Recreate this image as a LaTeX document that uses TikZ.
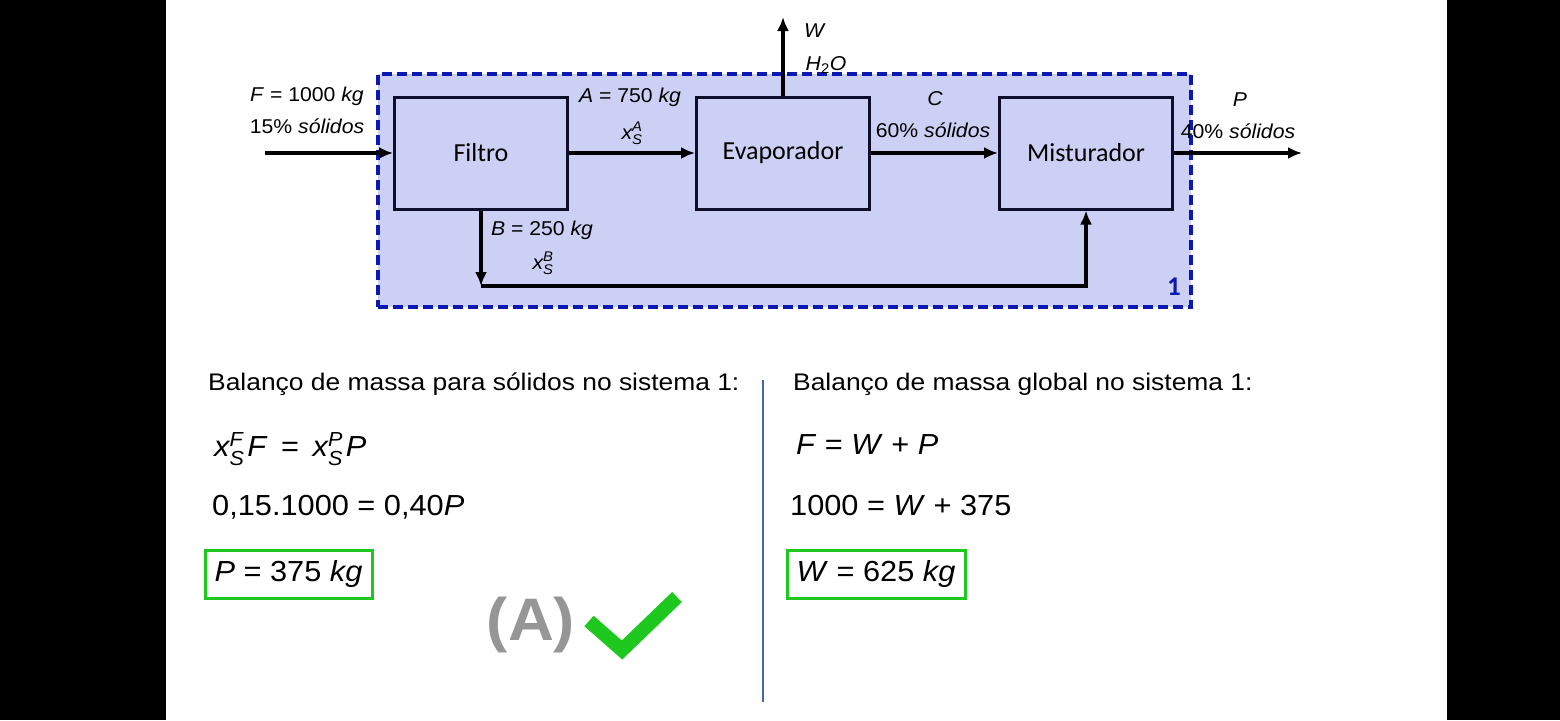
\documentclass[tikz,border=0pt]{standalone}
\usepackage{amsmath}
\usepackage{fontspec}
\setmainfont{Liberation Sans}[FakeStretch=1.06]
\newfontfamily\calibri{Carlito}
\newfontfamily\titfont{Liberation Sans}[FakeStretch=1.1]
\newfontfamily\eqfont{Liberation Sans}[FakeStretch=1.06]
\usetikzlibrary{arrows.meta}

\definecolor{lavanda}{RGB}{205,208,245}
\definecolor{azulsis}{RGB}{12,24,178}
\definecolor{marinho}{RGB}{14,14,44}
\definecolor{verde}{RGB}{30,200,30}
\definecolor{divisor}{RGB}{70,100,170}
\definecolor{cinza}{RGB}{150,150,150}

\newcommand\fracsol[1]{$\textit{x}^{\text{\itshape #1}}_{\text{\itshape S}}$}

\tikzset{
  sistema/.style = {draw = azulsis, fill = lavanda, line width = 3.5pt, dash pattern = on 10pt off 5pt,
                    minimum width = 813pt, minimum height = 233pt, inner sep = 0pt},
  unidade/.style = {draw = marinho, fill = lavanda, line width = 3pt, minimum width = 173pt,
                    minimum height = 112pt, inner sep = 0pt, font = \calibri\fontsize{26}{30}\selectfont},
  fluxo/.style   = {line width = 3.5pt, -{Latex[length = 14pt, width = 12pt]}},
  rotulo/.style  = {anchor = base, inner sep = 0pt, font = \fontsize{20}{24}\selectfont},
  titulo/.style  = {anchor = base west, inner sep = 0pt, font = \titfont\fontsize{24}{28}\selectfont},
  eq/.style      = {anchor = base west, inner sep = 0pt, font = \eqfont\fontsize{29}{34}\selectfont},
  resultado/.style = {draw = verde, line width = 3pt, minimum width = 167pt, minimum height = 48pt,
                    inner sep = 0pt, font = \eqfont\fontsize{29}{34}\selectfont}
}

\begin{document}
\begin{tikzpicture}[x = 1pt, y = -1pt]
\useasboundingbox (0,0) rectangle (1560,720);
\fill[white] (0,0) rectangle (1560,720);
\fill[black] (0,0) rectangle (166,720);
\fill[black] (1447,0) rectangle (1560,720);

% sistema 1
\node[sistema] (sis) at (784.5,190.5) {};
\node[text = azulsis, font = \calibri\bfseries\fontsize{27}{30}\selectfont] (num) at (1174,287) {1};

% unidades
\node[unidade] (filtro) at (481,153) {Filtro};
\node[unidade] (evap) at (783,153) {Evaporador};
\node[unidade] (mist) at (1086,153) {Misturador};

\coordinate (ent) at (265,153);
\coordinate (sai) at (1302,153);
\coordinate (vap) at (783,17);
\coordinate (fundo) at (481,286);

\draw[fluxo] (ent) -- (filtro);
\draw[fluxo] (filtro) -- (evap);
\draw[fluxo] (evap) -- (mist);
\draw[fluxo] (mist) -- (sai);
\draw[fluxo] (evap) -- (vap);
\draw[fluxo] (filtro) -- (fundo);
\draw[fluxo] (fundo) -| (mist);

% correntes
\node[rotulo] (lF) at (307,101) {\textit{F} = 1000 \textit{kg}};
\node[rotulo] (lF2) at (307,133) {15\% \textit{sólidos}};
\node[rotulo] (lA) at (630,102) {\textit{A} = 750 \textit{kg}};
\node[rotulo] (lxA) at (632,139) {\fracsol{A}};
\node[rotulo] (lB) at (542,235) {\textit{B} = 250 \textit{kg}};
\node[rotulo] (lxB) at (543,269) {\fracsol{B}};
\node[rotulo] (lC) at (935,105) {\textit{C}};
\node[rotulo] (lC2) at (933,137) {60\% \textit{sólidos}};
\node[rotulo] (lP) at (1240,106) {\textit{P}};
\node[rotulo] (lP2) at (1238,138) {40\% \textit{sólidos}};
\node[rotulo] (lW) at (815,37) {\textit{W}};
\node[rotulo] (lH) at (826,70) {\textit{H}\textsubscript{2}\textit{O}};

% balancos
\node[titulo] (tit1) at (208,390) {Balanço de massa para sólidos no sistema 1:};
\node[eq] (eq1) at (214,456) {\fracsol{F}\hspace{3pt}\textit{F}\hspace{5pt} = \hspace{5pt}\fracsol{P}\hspace{3pt}\textit{P}};
\node[eq] (eq2) at (212,515) {0,15.1000 = 0,40\textit{P}};
\node[resultado] (res1) at (288.5,574) {\textit{P} = 375 \textit{kg}};

\node[titulo] (tit2) at (793,390) {Balanço de massa global no sistema 1:};
\node[eq] (eq3) at (796,454) {\textit{F} = \textit{W} + \textit{P}};
\node[eq] (eq4) at (790,515) {1000 = \textit{W} + 375};
\node[resultado, minimum width = 178pt] (res2) at (876,574) {\textit{W} = 625 \textit{kg}};

\coordinate (dtopo) at (763,380);
\coordinate (dbase) at (763,702);
\draw[divisor, line width = 2pt] (dtopo) -- (dbase);

% alternativa
\node[text = cinza, font = \bfseries\fontsize{60}{60}\selectfont] (alt) at (531,625) {(A)};
\draw[verde, line width = 14pt] (589,621) -- (622,650) -- (677,597);
\end{tikzpicture}
\end{document}
